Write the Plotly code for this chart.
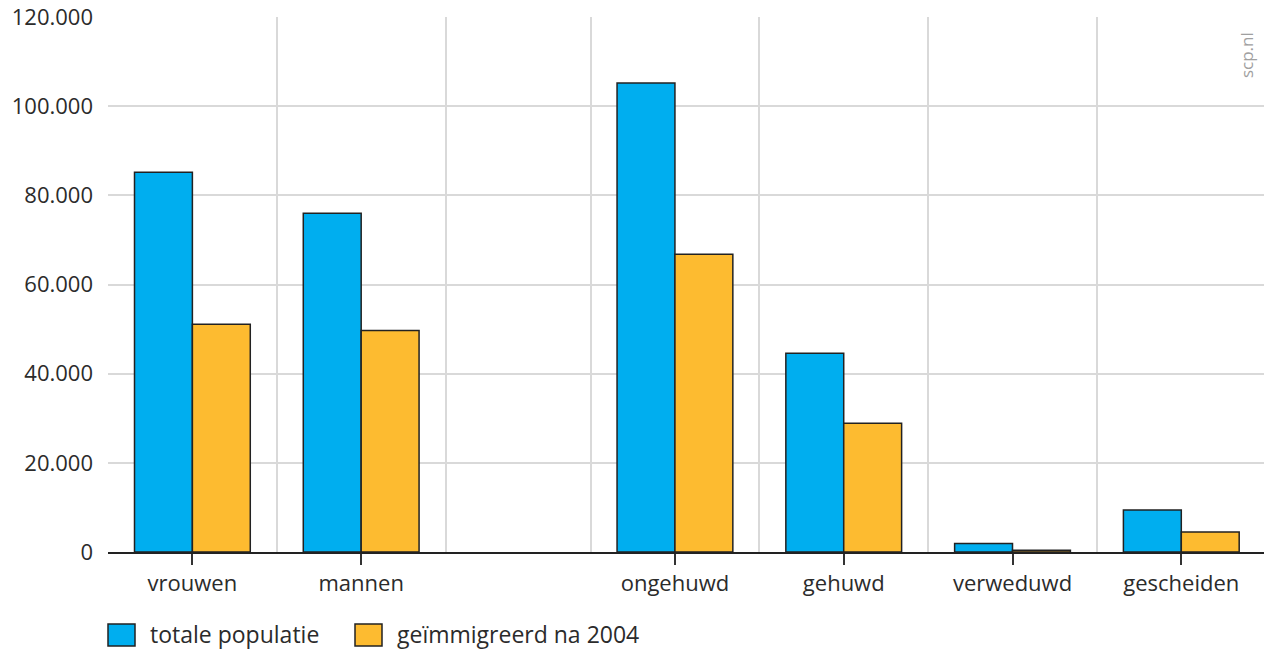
import plotly.graph_objects as go

# ---- data ----
categories = ["vrouwen", "mannen", "ongehuwd", "gehuwd", "verweduwd", "gescheiden"]
totale_populatie = [85200, 76000, 105200, 44600, 1900, 9400]
geimmigreerd_na_2004 = [51100, 49700, 66800, 28900, 400, 4500]
series_names = ["totale populatie", "geïmmigreerd na 2004"]
series_colors = ["#00AEEF", "#FDBB30"]
y_tick_values = [0, 20000, 40000, 60000, 80000, 100000, 120000]
y_tick_labels = ["0", "20.000", "40.000", "60.000", "80.000", "100.000", "120.000"]

# layout of category slots (two groups separated by a narrower empty slot)
gap_width = 0.859
slot_starts = [0, 1, 2 + gap_width, 3 + gap_width, 4 + gap_width, 5 + gap_width]
centers = [s + 0.5 for s in slot_starts]
boundaries = [0, 1, 2] + [s for s in slot_starts[2:]]
bar_w = 0.343

FONT = "Open Sans"
TXT = "#2b2b2b"

fig = go.Figure()
for i, (vals, name) in enumerate(zip([totale_populatie, geimmigreerd_na_2004], series_names)):
    fig.add_trace(go.Bar(
        x=centers, y=vals, name=name,
        width=bar_w, offset=-bar_w if i == 0 else 0,
        marker=dict(color=series_colors[i], line=dict(color="#222222", width=1.5)),
        showlegend=False,
    ))

fig.update_layout(
    width=1264, height=649,
    margin=dict(l=108, r=0, t=17, b=97, autoexpand=False),
    plot_bgcolor="white", paper_bgcolor="white",
    font=dict(family=FONT, size=22, color=TXT),
    barmode="overlay",
    xaxis=dict(
        range=[0, 5 + gap_width + 0.99],
        tickvals=centers, ticktext=categories,
        showgrid=False, zeroline=False,
        ticks="outside", ticklen=11, tickwidth=1.5, tickcolor="#333333",
        showline=True, linecolor="#222222", linewidth=2,
        minor=dict(tickvals=boundaries, showgrid=True, gridcolor="#d9d9d9", gridwidth=1.5, ticks=""),
        tickfont=dict(family=FONT, size=22, color=TXT),
        automargin=False,
    ),
    yaxis=dict(
        range=[0, 120000],
        tickvals=y_tick_values, ticktext=y_tick_labels,
        showgrid=True, gridcolor="#d9d9d9", gridwidth=1.5,
        zeroline=False, showline=False,
        ticklabelstandoff=14,
        tickfont=dict(family=FONT, size=22, color=TXT),
        automargin=False,
    ),
)

# watermark
fig.add_annotation(text="scp.nl", xref="paper", yref="paper", x=0.985, y=0.975,
                   xanchor="center", yanchor="top", textangle=-90, showarrow=False,
                   font=dict(family=FONT, size=17, color="#a0a0a0"))

# legend drawn manually
leg_items = [(0.0, series_names[0], series_colors[0]), (247 / 1156, series_names[1], series_colors[1])]
for xp, name, col in leg_items:
    x0 = xp
    fig.add_shape(type="rect", xref="paper", yref="paper",
                  x0=x0, x1=x0 + 27 / 1156, y0=-(646 - 552) / 535, y1=-(624 - 552) / 535,
                  fillcolor=col, line=dict(color="#222222", width=1.5))
    fig.add_annotation(text=name, xref="paper", yref="paper", x=x0 + 40 / 1156, y=-(634 - 552) / 535,
                       xanchor="left", yanchor="middle", showarrow=False,
                       font=dict(family=FONT, size=23, color=TXT))

fig.write_html("out.html", config={"displayModeBar": False},
               post_script="document.body.style.margin='0';document.body.style.overflow='hidden';")
